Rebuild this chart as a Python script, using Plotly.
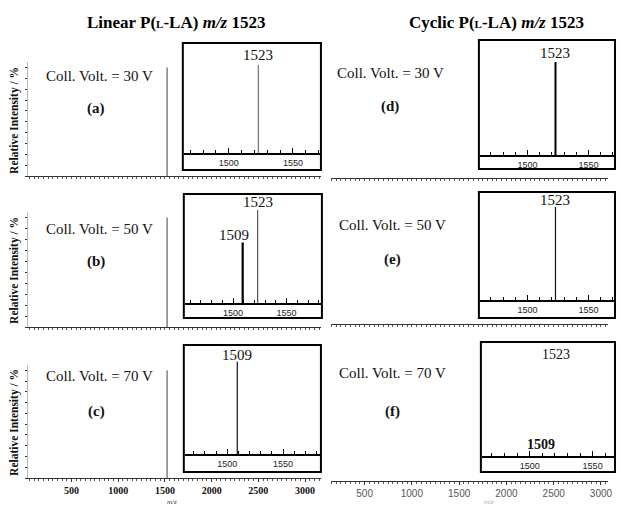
import plotly.graph_objects as go

W, H = 621, 508

# ---------------- data ----------------
main_peak_mz = [1523]
main_peak_int = [100]

inset_a_mz = [1523]; inset_a_int = [100]
inset_b_mz = [1509, 1523]; inset_b_int = [65, 100]
inset_c_mz = [1509]; inset_c_int = [100]
inset_d_mz = [1523]; inset_d_int = [100]
inset_e_mz = [1523]; inset_e_int = [100]
inset_f_labels_mz = [1523, 1509]
inset_f_labels_int = [104.7, 11.3]

volt_labels = ["Coll. Volt. = 30 V", "Coll. Volt. = 50 V", "Coll. Volt. = 70 V"]
panel_left = ["(a)", "(b)", "(c)"]
panel_right = ["(d)", "(e)", "(f)"]
main_ticks = [500, 1000, 1500, 2000, 2500, 3000]
inset_ticks = [1500, 1550]

SERIF = "Liberation Serif"
SANS = "Liberation Sans"


def px(x):
    return x / W


def py(y):
    return 1 - y / H


def stems(mz, inten):
    xs, ys = [], []
    for m, i in zip(mz, inten):
        xs += [m, m, None]
        ys += [0, i, None]
    return xs, ys


fig = go.Figure()
layout = {}

# main panels: (idx, xdom px, ydom px, xrange, left?, show tick labels)
mains = [
    (1, (28, 323), (62, 176), (32, 3170), True, False),
    (2, (28, 323), (212, 327), (32, 3170), True, False),
    (3, (28, 323), (365, 478), (32, 3170), True, True),
    (4, (333, 612), (62, 178), (143, 3075), False, False),
    (5, (333, 612), (212, 324), (143, 3075), False, False),
    (6, (333, 612), (365, 481), (143, 3075), False, True),
]

for idx, xd, yd, xr, left, showlab in mains:
    xa = f"xaxis{idx}" if idx > 1 else "xaxis"
    ya = f"yaxis{idx}" if idx > 1 else "yaxis"
    layout[xa] = dict(
        domain=[px(xd[0]), px(xd[1])], range=list(xr), anchor=f"y{idx}",
        showgrid=False, zeroline=False, showline=True, linecolor="#333", linewidth=1,
        ticks="outside", ticklen=3, tickcolor="#333", tickvals=main_ticks,
        ticktext=([("<b>%d</b>" % t) if left else str(t) for t in main_ticks]
                  if showlab else [""] * len(main_ticks)),
        showticklabels=showlab,
        tickfont=dict(family=SERIF if left else SANS, size=10,
                      color="#111" if left else "#555"),
        minor=dict(dtick=50, ticklen=2, ticks="outside", tickcolor="#555"),
    )
    layout[ya] = dict(
        domain=[py(yd[1]), py(yd[0])], range=[0, 105], anchor=f"x{idx}",
        showgrid=False, zeroline=False, showticklabels=False,
        showline=left, linecolor="#bbb", linewidth=1,
        ticks="outside" if left else "", ticklen=2, tickcolor="#333", dtick=10,
        visible=left,
    )
    if left:
        xs, ys = stems(main_peak_mz, main_peak_int)
        fig.add_trace(go.Scatter(x=xs, y=ys, mode="lines", xaxis=f"x{idx}", yaxis=f"y{idx}",
                                 line=dict(color="#444", width=1), hoverinfo="skip", showlegend=False))
    else:
        fig.add_trace(go.Scatter(x=[None], y=[None], mode="lines", xaxis=f"x{idx}", yaxis=f"y{idx}",
                                 hoverinfo="skip", showlegend=False))

# insets: idx, box px (x0,y0,x1,y1), axis y px, ydom top px, xrange, yrange top, data, widths, colours
insets = [
    (7, (184, 43, 323, 170), 153, 45, (1465, 1571), 122.7, inset_a_mz, inset_a_int, [1.0], ["#555"]),
    (8, (185, 194, 324, 318), 303, 196, (1455, 1582), 115, inset_b_mz, inset_b_int, [2.2, 1.0], ["#000", "#333"]),
    (9, (185, 345, 323, 472), 454, 347, (1462, 1583), 116, inset_c_mz, inset_c_int, [1.3], ["#222"]),
    (10, (482, 40, 619, 169), 155, 42, (1461, 1571), 121.5, inset_d_mz, inset_d_int, [2.0], ["#000"]),
    (11, (482, 192, 619, 318), 300, 194, (1461, 1571), 114, inset_e_mz, inset_e_int, [1.2], ["#111"]),
    (12, (484, 342, 619, 472), 456, 344, (1462, 1567), 115, [], [], [], []),
]

shapes = []
annotations = []

for idx, box, axy, ytop, xr, yr, mz, inten, lws, cols in insets:
    x0, y0, x1, y1 = box
    layout[f"xaxis{idx}"] = dict(
        domain=[px(x0 + 1), px(x1 - 1)], range=list(xr), anchor=f"y{idx}",
        showgrid=False, zeroline=False, showline=True, linecolor="#000", linewidth=1.5,
        ticks="inside", ticklen=5, tickcolor="#000", tickvals=inset_ticks,
        tickfont=dict(family=SANS, size=9, color="#222"),
        minor=dict(dtick=10, ticklen=3, ticks="inside", tickcolor="#000"),
    )
    layout[f"yaxis{idx}"] = dict(
        domain=[py(axy), py(ytop)], range=[0, yr], anchor=f"x{idx}",
        visible=False, showgrid=False, zeroline=False,
    )
    shapes.append(dict(type="rect", xref="paper", yref="paper",
                       x0=px(x0), x1=px(x1), y0=py(y1), y1=py(y0),
                       line=dict(color="#000", width=2), fillcolor="rgba(0,0,0,0)", layer="above"))
    if mz:
        for m, i, lw, c in zip(mz, inten, lws, cols):
            xs, ys = stems([m], [i])
            fig.add_trace(go.Scatter(x=xs, y=ys, mode="lines", xaxis=f"x{idx}", yaxis=f"y{idx}",
                                     line=dict(color=c, width=lw), hoverinfo="skip", showlegend=False))
    else:
        fig.add_trace(go.Scatter(x=[None], y=[None], mode="lines", xaxis=f"x{idx}", yaxis=f"y{idx}",
                                 hoverinfo="skip", showlegend=False))

# peak labels
peak_font = dict(family=SERIF, size=15, color="#111")
for idx, mz, inten, xs_, ys_ in [
    (7, inset_a_mz, inset_a_int, [0], [0]),
    (8, inset_b_mz, inset_b_int, [-9, 0], [-2, -2]),
    (9, inset_c_mz, inset_c_int, [0], [-3]),
    (10, inset_d_mz, inset_d_int, [0], [-1]),
    (11, inset_e_mz, inset_e_int, [0], [-3]),
]:
    for m, i, xs1, ys1 in zip(mz, inten, xs_, ys_):
        annotations.append(dict(x=m, y=i, xref=f"x{idx}", yref=f"y{idx}", text=str(m),
                                showarrow=False, yanchor="bottom", xanchor="center",
                                xshift=xs1, yshift=ys1, font=peak_font))
# inset (f) labels
annotations.append(dict(x=inset_f_labels_mz[0], y=inset_f_labels_int[0], xref="x12", yref="y12",
                        text=str(inset_f_labels_mz[0]), showarrow=False, yanchor="middle",
                        xshift=-3, font=dict(family=SERIF, size=14, color="#111")))
annotations.append(dict(x=inset_f_labels_mz[1], y=inset_f_labels_int[1], xref="x12", yref="y12",
                        text="<b>%d</b>" % inset_f_labels_mz[1], showarrow=False, yanchor="middle",
                        font=dict(family=SERIF, size=14, color="#111")))

# titles
title_font = dict(family=SERIF, size=17, color="#000")
annotations.append(dict(x=px(177), y=py(22), xref="paper", yref="paper", showarrow=False,
                        text="<b>Linear P(<span style='font-size:11px'>L</span>-LA) <i>m/z</i> 1523</b>",
                        font=title_font, xanchor="center", yanchor="middle"))
annotations.append(dict(x=px(500), y=py(22), xref="paper", yref="paper", showarrow=False,
                        text="<b>Cyclic P(<span style='font-size:11px'>L</span>-LA) <i>m/z</i> 1523</b>",
                        font=title_font, xanchor="center", yanchor="middle"))

# voltage and panel labels
volt_pos_left = [(100, 76, 108), (100, 229, 261), (100, 376, 411)]
volt_pos_right = [(393, 73, 107), (395, 225, 259), (395, 373, 411)]
txt_font = dict(family=SERIF, size=15, color="#111")
for (vx, vy, ly), vt, pl in zip(volt_pos_left, volt_labels, panel_left):
    annotations.append(dict(x=px(vx), y=py(vy), xref="paper", yref="paper", showarrow=False,
                            text=vt, font=txt_font, xanchor="center", yanchor="middle"))
    annotations.append(dict(x=px(vx - 3), y=py(ly), xref="paper", yref="paper", showarrow=False,
                            text="<b>%s</b>" % pl, font=txt_font, xanchor="center", yanchor="middle"))
for (vx, vy, ly), vt, pl in zip(volt_pos_right, volt_labels, panel_right):
    annotations.append(dict(x=px(vx), y=py(vy), xref="paper", yref="paper", showarrow=False,
                            text=vt, font=txt_font, xanchor="center", yanchor="middle"))
    annotations.append(dict(x=px(vx), y=py(ly), xref="paper", yref="paper", showarrow=False,
                            text="<b>%s</b>" % pl, font=txt_font, xanchor="center", yanchor="middle"))

# y axis titles
for cy in [120, 270, 422]:
    annotations.append(dict(x=px(14), y=py(cy), xref="paper", yref="paper", showarrow=False,
                            text="<b>Relative Intensity / %</b>", textangle=-90,
                            font=dict(family=SERIF, size=11.5, color="#111"),
                            xanchor="center", yanchor="middle"))

# m/z axis labels
annotations.append(dict(x=px(173), y=py(502), xref="paper", yref="paper", showarrow=False,
                        text="<i>m/z</i>", font=dict(family=SERIF, size=7, color="#333"),
                        xanchor="center", yanchor="middle"))
annotations.append(dict(x=px(492), y=py(502), xref="paper", yref="paper", showarrow=False,
                        text="<i>m/z</i>", font=dict(family=SANS, size=6, color="#aaa"),
                        xanchor="center", yanchor="middle"))

fig.update_layout(
    width=W, height=H, margin=dict(l=0, r=0, t=0, b=0),
    paper_bgcolor="white", plot_bgcolor="white", showlegend=False,
    shapes=shapes, annotations=annotations, **layout,
)

fig.write_html(
    "out.html",
    config={"displayModeBar": False},
    post_script="document.body.style.margin='0';document.body.style.padding='0';"
                "document.documentElement.style.overflow='hidden';",
)
